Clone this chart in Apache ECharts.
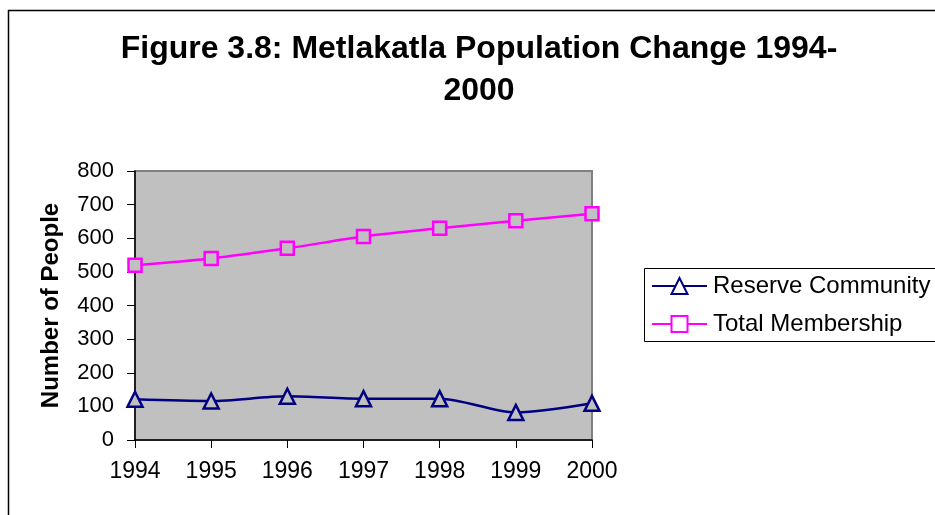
<!DOCTYPE html>
<html>
<head>
<meta charset="utf-8">
<script src="https://cdn.jsdelivr.net/npm/echarts@6/dist/echarts.min.js"></script>
<style>
  html, body { margin: 0; padding: 0; background: #fff; }
  #chart { width: 935px; height: 515px; }
</style>
</head>
<body>
<div id="chart"></div>
<script>
const years = ['1994', '1995', '1996', '1997', '1998', '1999', '2000']
const reserveCommunity = [121, 116, 130, 123, 123, 82, 109]
const totalMembership = [520, 540, 570, 605, 630, 652, 673]

const chartDom = document.querySelector('#chart')
const myChart = echarts.init(chartDom)
const font = '"Liberation Sans", Arial, sans-serif'

const option = {
  animation: false,
  graphic: [
    {
      type: 'rect',
      shape: { x: 8.5, y: 10.5, width: 2000, height: 2000 },
      style: { fill: 'none', stroke: '#000', lineWidth: 1.5 },
      silent: true
    },
    {
      type: 'text',
      style: {
        x: 479,
        y: 28,
        text: 'Figure 3.8: Metlakatla Population Change 1994-\n2000',
        textAlign: 'center',
        textVerticalAlign: 'top',
        font: 'bold 32px ' + font,
        lineHeight: 42,
        fill: '#000'
      },
      silent: true
    },
    {
      type: 'rect',
      shape: { x: 644.5, y: 268.5, width: 400, height: 73 },
      style: { fill: '#fff', stroke: '#000', lineWidth: 1 },
      silent: true,
      z: -1
    }
  ],
  grid: {
    left: 135,
    right: 343,
    top: 171,
    bottom: 75,
    show: true,
    backgroundColor: '#c0c0c0',
    borderColor: '#808080',
    borderWidth: 2
  },
  legend: {
    orient: 'vertical',
    left: 651,
    top: 274,
    itemWidth: 55,
    itemHeight: 20,
    itemGap: 14,
    padding: 0,
    textStyle: { fontFamily: font, fontSize: 24, color: '#000', padding: [0, 0, 0, 1] },
    data: [
      { name: 'Reserve Community', itemStyle: { color: '#fff' } },
      { name: 'Total Membership', itemStyle: { color: '#fff' } }
    ]
  },
  xAxis: {
    type: 'category',
    data: years,
    boundaryGap: false,
    axisLine: { lineStyle: { color: '#000', width: 1.5 } },
    axisTick: { length: 8, lineStyle: { color: '#000' } },
    axisLabel: { fontFamily: font, fontSize: 23, color: '#000', margin: 20 }
  },
  yAxis: {
    type: 'value',
    min: 0,
    max: 800,
    interval: 100,
    name: 'Number of People',
    nameLocation: 'middle',
    nameRotate: 90,
    nameGap: 72,
    nameTextStyle: { fontFamily: font, fontSize: 24, fontWeight: 'bold', color: '#000' },
    splitLine: { show: false },
    axisLine: { show: true, lineStyle: { color: '#000', width: 1.5 } },
    axisTick: { show: true, length: 8, lineStyle: { color: '#000' } },
    axisLabel: { fontFamily: font, fontSize: 22, color: '#000', margin: 21 }
  },
  series: [
    {
      name: 'Reserve Community',
      type: 'line',
      data: reserveCommunity,
      smooth: 0.3,
      symbol: 'triangle',
      symbolSize: 15,
      lineStyle: { color: '#000080', width: 2.5 },
      itemStyle: { color: '#c0c0c0', borderColor: '#000080', borderWidth: 2.5 },
      emphasis: { disabled: true }
    },
    {
      name: 'Total Membership',
      type: 'line',
      data: totalMembership,
      smooth: 0.3,
      symbol: 'rect',
      symbolSize: 13,
      lineStyle: { color: '#ff00ff', width: 2.5 },
      itemStyle: { color: '#c0c0c0', borderColor: '#ff00ff', borderWidth: 2.5 },
      emphasis: { disabled: true }
    }
  ]
}

option && myChart.setOption(option)
</script>
</body>
</html>
